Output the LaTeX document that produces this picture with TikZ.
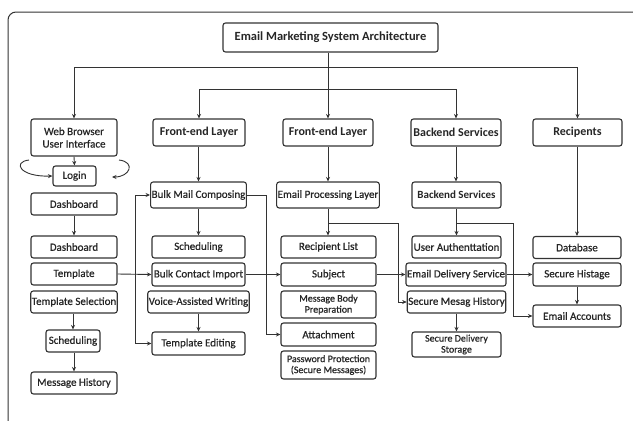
\documentclass[tikz,border=0pt]{standalone}
\usepackage{fontspec}
\setmainfont{Carlito}[FakeBold=0.6, BoldFeatures={FakeBold=0}]
\usetikzlibrary{arrows.meta}
\definecolor{lc}{HTML}{333333}
\definecolor{tc}{HTML}{262626}
\begin{document}
\begin{tikzpicture}[x=1pt,y=-1pt,
  box/.style={draw=lc, line width=1.1pt, rounded corners=2.5pt, fill=white, inner sep=1pt, align=center, text=tc, font=\fontsize{11}{12}\selectfont},
  hdr/.style={box, font=\fontsize{12}{13}\selectfont\bfseries},
  conn/.style={draw=lc, line width=0.9pt},
  arr/.style={conn, -{Stealth[length=4.5pt,width=4pt]}},
]
\clip (0,0) rectangle (633,421);
\fill[white] (0,0) rectangle (633,421);
% outer frame
\draw[lc, line width=1pt, rounded corners=8pt] (8,440) -- (8,12) -- (660,12);

% title
\node[box, font=\fontsize{12.5}{14}\selectfont\bfseries, minimum width=215pt, minimum height=29pt] (title) at (330.5,37.5) {Email Marketing System Architecture};

% column 1
\node[box, minimum width=86pt, minimum height=37pt, font=\fontsize{11}{12.5}\selectfont] (web) at (74,137.5) {Web Browser\\User Interface};
\node[box, minimum width=43pt, minimum height=20pt] (login) at (74.5,176) {Login};
\node[box, minimum width=86pt, minimum height=22pt] (dash1) at (74,204) {Dashboard};
\node[box, minimum width=86pt, minimum height=22pt] (dash2) at (74,247) {Dashboard};
\node[box, minimum width=86pt, minimum height=22pt] (tmpl) at (74,274) {Template};
\node[box, minimum width=86pt, minimum height=22pt] (tsel) at (74,302) {Template Selection};
\node[box, minimum width=54pt, minimum height=22pt] (sched1) at (73,341) {Scheduling};
\node[box, minimum width=86pt, minimum height=22pt] (mhist) at (74,383) {Message History};

% column 2
\node[hdr, minimum width=92pt, minimum height=27pt] (fe1) at (199,132.5) {Front-end Layer};
\node[box, minimum width=93pt, minimum height=26pt] (bmc) at (198.5,195) {Bulk Mail Composing};
\node[box, minimum width=93pt, minimum height=22pt] (sched2) at (198.5,247) {Scheduling};
\node[box, minimum width=93pt, minimum height=23pt] (bci) at (198.5,274.5) {Bulk Contact Import};
\node[box, minimum width=93pt, minimum height=22pt] (vaw) at (198.5,302) {Voice-Assisted Writing};
\node[box, minimum width=93pt, minimum height=23pt] (ted) at (198.5,343.5) {Template Editing};

% column 3
\node[hdr, minimum width=90pt, minimum height=27pt] (fe2) at (328,132.5) {Front-end Layer};
\node[box, minimum width=100pt, minimum height=26pt] (epl) at (328,195) {Email Processing Layer};
\node[box, minimum width=95pt, minimum height=22pt] (rlist) at (328.5,247) {Recipient List};
\node[box, minimum width=95pt, minimum height=23pt] (subj) at (328.5,274.5) {Subject};
\node[box, minimum width=95pt, minimum height=27pt, font=\fontsize{10}{11}\selectfont] (mbp) at (328.5,304.5) {Message Body\\Preparation};
\node[box, minimum width=95pt, minimum height=23pt] (att) at (328.5,334.5) {Attachment};
\node[box, minimum width=95pt, minimum height=28pt, font=\fontsize{10}{11}\selectfont] (pwd) at (328.5,365) {Password Protection\\(Secure Messages)};

% column 4
\node[hdr, minimum width=90pt, minimum height=27pt] (be1) at (456,132.5) {Backend Services};
\node[hdr, minimum width=89pt, minimum height=26pt, font=\fontsize{11}{12}\selectfont\bfseries] (be2) at (456.5,195) {Backend Services};
\node[box, minimum width=89pt, minimum height=22pt] (uauth) at (456.5,247) {User Authenttation};
\node[box, minimum width=90pt, minimum height=23pt] (eds) at (456,274.5) {Email Delivery Service};
\node[box, minimum width=89pt, minimum height=22pt] (smh) at (456.5,302) {Secure Mesag History};
\node[box, minimum width=89pt, minimum height=25pt, font=\fontsize{10}{11}\selectfont] (sds) at (456.5,344.5) {Secure Delivery\\Storage};

% column 5
\node[hdr, minimum width=89pt, minimum height=27pt] (rec) at (577.5,132.5) {Recipents};
\node[box, minimum width=88pt, minimum height=22pt] (db) at (577,247.5) {Database};
\node[box, minimum width=88pt, minimum height=23pt] (shist) at (577,274.5) {Secure Histage};
\node[box, minimum width=88pt, minimum height=22pt] (eacc) at (577,316) {Email Accounts};

% top-level connectors
\coordinate (busA) at (0,67);
\coordinate (busB) at (0,89);
\draw[arr] (title.south -| fe2.north) -- (fe2.north);
\draw[conn] (busA -| web.north) -- (busA -| rec.north);
\draw[arr] (busA -| web.north) -- (web.north);
\draw[arr] (busA -| rec.north) -- (rec.north);
\draw[conn] (busB -| fe1.north) -- (busB -| be1.north);
\draw[arr] (busB -| fe1.north) -- (fe1.north);
\draw[arr] (busB -| be1.north) -- (be1.north);

% column 1 connectors
\draw[arr] (web.south) -- (login.north);
\coordinate (cl) at (29,160);
\coordinate (cr) at (119,160);
\coordinate (crEnd) at (112,177);
\draw[arr] (cl) .. controls (12,162) and (20,177) .. (login.west);
\draw[arr] (cr) .. controls (136,162) and (130,177) .. (crEnd);
\draw[arr] (dash1.south) -- (dash2.north);
\draw[arr] (tsel.south -| sched1.north) -- (sched1.north);
\draw[arr] (sched1.south -| mhist.north) -- (mhist.north);

% template branches
\coordinate (tb) at (135,274);
\draw[arr] (tmpl.east) -- (bci.west);
\draw[arr] (tb) |- (bmc.west);
\draw[arr] (tb) |- (ted.west);

% column 2 connectors
\draw[arr] (fe1.south -| bmc.north) -- (bmc.north);
\draw[arr] (bmc.south) -- (sched2.north);
\draw[arr] (vaw.south) -- (ted.north);
\draw[arr] (bmc.east) -- (266,195) |- (att.west);
\draw[arr] (bci.east) -- (subj.west);

% column 3 connectors
\draw[arr] (fe2.south) -- (epl.north);
\draw[arr] (epl.south) -- (rlist.north -| epl.south);
\draw[arr] (epl.south |- 0,223) -- (398,223) |- (smh.west);
\draw[arr] (subj.east) -- (eds.west);

% column 4 connectors
\draw[arr] (be1.south) -- (be1.south |- be2.north);
\draw[arr] (be2.south) -- (be2.south |- uauth.north);
\draw[arr] (be2.south |- 0,223) -- (513,223) |- (eacc.west);
\draw[arr] (eds.east) -- (shist.west);
\draw[arr] (smh.south) -- (sds.north);

% column 5 connectors
\draw[arr] (rec.south -| db.north) -- (db.north);
\draw[arr] (shist.south) -- (eacc.north);
\end{tikzpicture}
\end{document}
